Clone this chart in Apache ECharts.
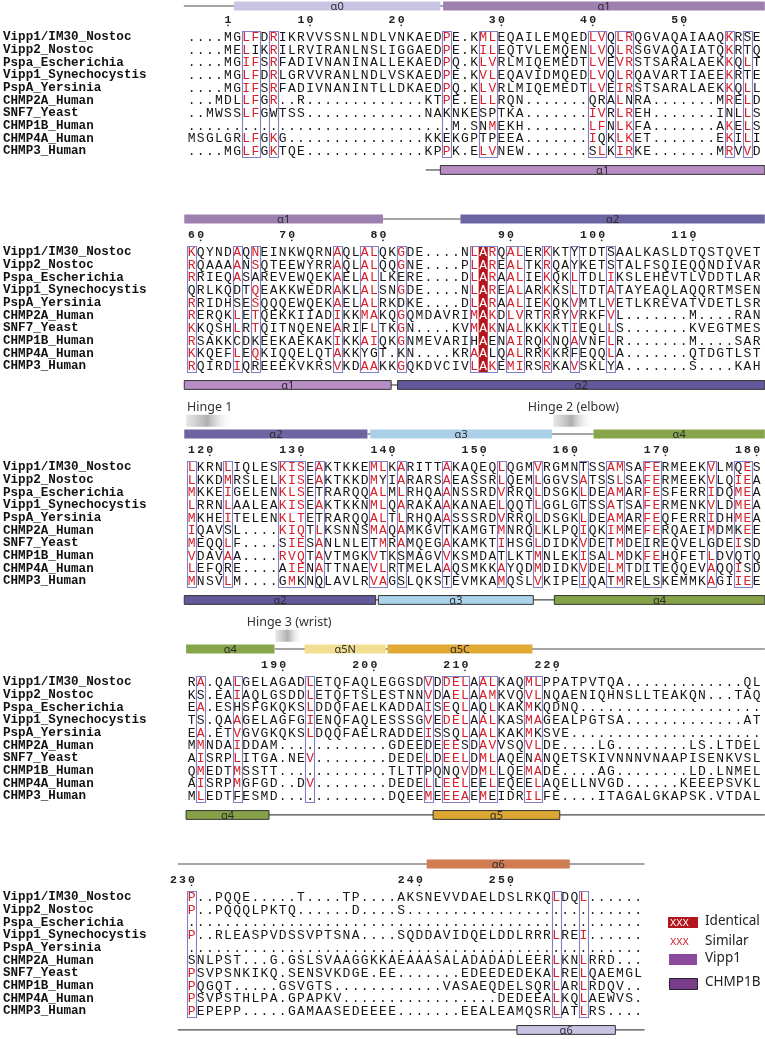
<!DOCTYPE html>
<html><head><meta charset="utf-8">
<script src="https://cdn.jsdelivr.net/npm/echarts@6/dist/echarts.min.js"></script>
<style>html,body{margin:0;padding:0;background:#fff}#c{width:765px;height:1039px}</style>
</head><body><div id="c"></div>
<script>
// ---------------- DATA ----------------
const names = ["Vipp1/IM30_Nostoc","Vipp2_Nostoc","Pspa_Escherichia","Vipp1_Synechocystis","PspA_Yersinia","CHMP2A_Human","SNF7_Yeast","CHMP1B_Human","CHMP4A_Human","CHMP3_Human"];

// residues; lowercase = similar residue (drawn red)
const seq1 = [
  "....MGlfDrIKRVVSSNLNDLVNKAEDpE.KmlEQAILEMQEDlvQlrQGVAQAIAAQkRSE",
  "....MElIKrILRVIRANLNSLIGGAEDpE.KilEQTVLEMQENlvQlrSGVAQAIATQkRTQ",
  "....MGifSrFADIVNANINALLEKAEDpQ.KlvRLMIQEMEDTlvEvrSTSARALAEKkQlT",
  "....MGlfDrLGRVVRANLNDLVSKAEDpE.KvlEQAVIDMQEDlvQlrQAVARTIAEEkRTE",
  "....MGifSrFADIVNANINTLLDKAEDpQ.KlvRLMIQEMEDTlvEirSTSARALAEKkQlL",
  "...MDLlfGr..R" + "............." + "KTpE.EllRQN" + "......." + "QRAlNRA" + "......." + "MrElD",
  "..MWSSlfGWTSS" + "............." + "NAKNKESPTKA" + "......." + "ivRlrEH" + "......." + "INLlS",
  ".........." + ".........." + "........." + "M.SNmEKH" + "......." + "lfNlkFA" + "......." + "AkElS",
  "MSGLGRlfGkG" + "..............." + "KKEKGPTPEEA" + "......." + "iQKlkET" + "......." + "EkIlI",
  "....MGlfGkTQE" + "............." + "KPpK.ElvNEW" + "......." + "SlKirKE" + "......." + "MrVvD"
];
const seq2 = [
  "kQYNDaQnEINKWQRNaQLalQKgDE....NlArQalERkKTYTDTSAALKASLDTQSTQVET",
  "rQAAAaNsQTEEWYRRaQLalQQgNE....PlArEalTKrQAYKETSTALFSQIEQQNDIVAR",
  "rRIEQaSAREVEWQEKaELalLKERE....DlArAalIEkQKlTDLiKSLEHEVTLVDDTLAR",
  "QRLKQDTqEAKKWEDRaKLalSNgDE....NlArEalARkKSlTDTaTAYEAQLAQQRTMSEN",
  "rRIDHSEsQQQEWQEKaELalRKDKE....DlArAalIEkQKvMTLvETLKREVATVDETLSR",
  "rERQKlEtQEKKIIADiKKmaKQgQMDAVRImAkDlvRTrRYvRKFvL" + "......." + "M" + "...." + "RAN",
  "kKQSHlRtQITNQENEaRIFlTKgN" + "...." + "KVmAkNalKKkKTiEQLlS" + "......." + "KVEGTMES",
  "rSAKKCDKEEKAEKAKiKKaiQKgNMEVARIHAENaiRQkNQaVNFlR" + "......." + "M" + "...." + "SAR",
  "kKQEFlEqKIQQELQTaKKYGT.KN" + "...." + "KRaALQalRRkKRFEQQlA" + "......." + "QTDGTLST",
  "rQIRDiQREEEKVKRSvKDaaKKgQKDVCIVlAkEmiRSrKAvSKLYA" + "......." + "S" + "...." + "KAH"
];
const seq3 = [
  "lKRNlIQLESkisEaKTKKEmlKaRITTaKAQEQlQGMvRGMNTSSamSAfeRMEEKvLMQeS",
  "lKKDmRSLELkisEaKTKKDmYIaRARSaEASSRlQEMlGGVSaTSSlSAfeRMEEKvLQieA",
  "mKKEiGELENklsETRARQQalMlRHQAaNSSRDvRRQlDSGKlDEamARfeSFERRiDQmeA",
  "lRRNlAALEAkisEaKTKKNmlQaRAKAaKANAElQQTlGGLGTSSaTSAfeRMENKvLDmeA",
  "mKHEiTELENkltETRARQQalTlRHQAaSSSRDvRRQlDSGKlDEamARfeQFERRiDHmeA",
  "iQAVSL....kiqTlKSNNSmaQaMKGVTKAMGTmNRQlKLPQiQKimMEfeRQAEImDMKeE",
  "mEQQlF....SieSaNLNLETmRaMQEGaKAMKTiHSGlDIDKvDETmDEIREQVELGDEiSD",
  "vDAVaA....rvqTaVTMGKvTKSMAGVvKSMDATLKTmNLEKiSAlmDKfeHQFETlDVQTQ",
  "lEFQRE....AieNaTTNAEvlRTMELAaQSMKKaYQDmDIDKvDElmTDITEQQEVaQQiSD",
  "mNSVlM....GmKNQLAVLRvaGSLQKSTEVMKAmQSLvKIPEiQATmRELSKEMMKaGIieE"
];
const seq4 = [
  "Ra.QAlGELAGADlETQFAQLEGGSDvDdelAalKAQmlPPATPVTQA" + "............." + "QL",
  "KS.EAiAQLGSDDlETQFTSLESTNNvDAelAamKVQvlNQAENIQHNSLLTEAKQN...TAQ",
  "Ea.ESHSFGKQKSlDDQFAELKADDAiSeQlAQlKAKmKQDNQ" + ".........." + "..........",
  "TS.QAaGELAGFGiENQFAQLESSSGvEdelAalKASmaGEALPGTSA" + "............." + "AT",
  "Ea.ETvGVGKQKSlDQQFAELRADDEiSSQlAalKAKmKSVE" + ".........." + "...........",
  "MmNDAiDDAM" + "............" + "GDEEDEeeSDavVSQvlDE" + "...." + "LG" + "........" + "LS.LTDEL",
  "AiSRPlITGA.NEv" + "........" + "DEDElDeelDmlAQENaNQETSKIVNNNVNAAPISENKVSL",
  "QmEDTmSSTT" + "............" + "TLTTPQNQvDmlLQEmaDE" + "...." + "AG" + "........" + "LD.LNMEL",
  "AiSRPmGFGD..Dv" + "........" + "DEDElLeelEElEQEElAQELLNVGD" + "......" + "KEEEPSVKL",
  "MlEDTFESMD" + "............" + "DQEEmEeeaEmEIDRilFE" + "...." + "ITAGALGKAPSK.VTDAL"
];
const seq5 = [
  "p..PQQE" + "....." + "T" + "...." + "TP" + "...." + "AKSNEVVDAELDSLRKQlDQl" + "......",
  "p..PQQQLPKTQ" + "......" + "D" + "...." + "S" + ".........." + ".........." + "......",
  ".........." + ".........." + ".........." + ".........." + "..........",
  "p..RLEASPVDSSVPTSNA" + "...." + "SQDDAVIDQELDDLRRRlREi" + "......",
  ".........." + ".........." + ".........." + ".........." + "..........",
  "SNLPST...G.GSLSVAAGGKKAEAAASALADADADLEERlKNlRRD...",
  "pSVPSNKIKQ.SENSVKDGE.EE" + "......." + "EDEEDEDEKAlRElQAEMGL",
  "pQGQT" + "....." + "GSVGTS" + "............" + "VASAEQDELSQRlARlRDQV..",
  "pSVPSTHLPA.GPAPKV" + "................." + "DEDEEAlKQlAEWVS.",
  "pEPEPP" + "....." + "GAMAASEDEEEE" + "......." + "EEALEAMQSRlATlRS...."
];

// boxed (similar) column ranges per block, identical columns
const boxes1 = [[6,7],[9,9],[28,28],[32,33],[44,45],[47,48],[59,59],[61,61]];
const boxes2 = [[0,0],[5,5],[7,7],[16,16],[19,20],[23,23],[31,33],[35,36],[39,39],[42,42],[46,46]];
const boxes3 = [[0,0],[4,4],[10,12],[14,14],[20,21],[23,23],[28,28],[34,34],[38,38],[43,43],[46,47],[50,51],[57,57],[60,61]];
const boxes4 = [[1,1],[5,5],[13,13],[26,26],[28,30],[32,33],[37,38]];
const boxes5 = [[0,0],[40,40],[43,43]];
const identical2 = [32];

// secondary structure: [kind, fromEdge, toEdge, name] (column edges)
const ss1Top = [["line",-0.35,28.1,""],["helix",5.15,27.8,"α0"],["helix",28.1,63.4,"α1"]];
const ss1Bot = [["line",26.2,27.8,""],["helix",27.8,63.4,"α1"]];
const ss2Top = [["line",21.5,30.0,""],["helix",-0.3,21.5,"α1"],["helix",30.0,63.4,"α2"]];
const ss2Bot = [["line",22.4,23.1,""],["helix",-0.3,22.4,"α1"],["helix",23.1,63.4,"α2"]];
const ss3Top = [["line",19.8,44.6,""],["helix",-0.3,19.8,"α2"],["helix",20.1,40.05,"α3"],["helix",44.6,63.4,"α4"]];
const ss3Bot = [["line",20.7,40.3,""],["helix",-0.3,20.7,"α2"],["helix",21.0,38.0,"α3"],["helix",40.3,63.4,"α4"]];
const ss4Top = [["line",9.6,63.4,""],["helix",-0.1,9.6,"α4"],["helix",12.9,21.8,"α5N"],["helix",22.0,37.9,"α5C"]];
const ss4Bot = [["line",9.0,63.4,""],["helix",-0.1,9.0,"α4"],["helix",27.0,40.9,"α5"]];
const ss5Top = [["line",-1.0,50.2,""],["helix",26.3,42.0,"α6"]];
const ss5Bot = [["line",-1.0,50.2,""],["helix",36.2,47.0,"α6"]];

// hinges: [fromEdge, toEdge, label]
const hinges3 = [[-0.1,5.1,"Hinge 1"],[40.2,44.6,"Hinge 2 (elbow)"]];
const hinges4 = [[9.7,12.7,"Hinge 3 (wrist)"]];

// ---------------- LAYOUT / STYLE ----------------
const ROWH = 12.63, COLW = 9.13, LEFT = 186;
const ROW0 = [37.3, 252.3, 467.3, 682.3, 897.3];
const TOPOFF = [-31.3, -33.3, -33.3, -33.3, -33.3];
const BOTOFF = 9 * ROWH + 19;
const RED = '#d81f2a', IDBG = '#b3161e', BOXC = '#8080c4';
const LETTER_FONT = '13px "Liberation Mono", monospace';
const SS_COLORS = {
  top: {'α0':'#c9c4e4','α1':'#9e80b0','α2':'#6d65a2','α3':'#a9d0e8','α4':'#87a64b','α5N':'#f1de90','α5C':'#e1aa34','α6':'#cf7c53'},
  bot: {'α1':'#b78dc4','α2':'#62589b','α3':'#acd3ea','α4':'#85a248','α5':'#dda733','α6':'#c9c3e3'}
};

const SEQS = [seq1, seq2, seq3, seq4, seq5];
const BOXES = [boxes1, boxes2, boxes3, boxes4, boxes5];
const IDENT = [[], identical2, [], [], []];
const SS = [[ss1Top, ss1Bot], [ss2Top, ss2Bot], [ss3Top, ss3Bot], [ss4Top, ss4Bot], [ss5Top, ss5Bot]];
const HINGES = [[], [], hinges3, hinges4, []];

const grid = [], xAxis = [], yAxis = [], series = [];
let resCount = 0;

SEQS.forEach((rows, b) => {
  grid.push({left: LEFT, top: ROW0[b] - 2 * ROWH, width: 63 * COLW, height: 13 * ROWH});
  xAxis.push({type: 'value', gridIndex: b, min: -0.5, max: 62.5, show: false});
  yAxis.push({
    type: 'value', gridIndex: b, min: -2, max: 11, interval: 1, inverse: true,
    axisLine: {show: false}, axisTick: {show: false}, splitLine: {show: false},
    axisLabel: {
      margin: LEFT - 2, align: 'left', fontFamily: 'Liberation Mono', fontWeight: 'bold',
      fontSize: 12.6, color: '#111',
      formatter: v => { const i = Math.round(v); return (Math.abs(v - i) < 1e-6 && i >= 0 && i < names.length) ? names[i] : ''; }
    }
  });

  // identical columns background
  series.push({
    type: 'custom', xAxisIndex: b, yAxisIndex: b, silent: true, z: 1,
    data: IDENT[b].map(c => [c, 0]),
    renderItem: (params, api) => {
      const c = api.value(0);
      const p0 = api.coord([c - 0.5, -0.5]), p1 = api.coord([c + 0.5, rows.length - 0.5]);
      return {type: 'rect', shape: {x: p0[0], y: p0[1], width: p1[0] - p0[0], height: p1[1] - p0[1]}, style: {fill: IDBG}};
    }
  });

  // boxes
  series.push({
    type: 'custom', xAxisIndex: b, yAxisIndex: b, silent: true, z: 3,
    data: BOXES[b].map(r => [r[0], r[1]]),
    renderItem: (params, api) => {
      const p0 = api.coord([api.value(0) - 0.5, -0.5]), p1 = api.coord([api.value(1) + 0.5, rows.length - 0.5]);
      return {type: 'rect', shape: {x: Math.round(p0[0]) + 0.5, y: Math.round(p0[1]) + 0.5, width: Math.round(p1[0] - p0[0]), height: Math.round(p1[1] - p0[1])},
        style: {fill: null, stroke: BOXC, lineWidth: 1.1}};
    }
  });

  // residues
  const cells = [], meta = [];
  const ident = new Set(IDENT[b]);
  rows.forEach((s, r) => {
    for (let c = 0; c < s.length; c++) {
      const ch = s[c];
      const up = ch.toUpperCase();
      let flag = 0;
      if (ident.has(c) && ch !== '.') flag = 2; else if (ch !== up) flag = 1;
      cells.push([c, r]); meta.push({ch: up, flag});
    }
  });
  series.push({
    type: 'custom', xAxisIndex: b, yAxisIndex: b, silent: true, z: 4, progressive: 0,
    data: cells,
    renderItem: (params, api) => {
      const m = meta[params.dataIndex];
      const p = api.coord([api.value(0), api.value(1)]);
      return {type: 'text', style: {text: m.ch, x: p[0], y: p[1] + 0.5, align: 'center', verticalAlign: 'middle',
        font: LETTER_FONT, fill: m.flag === 2 ? '#fff' : (m.flag === 1 ? RED : '#161616')}};
    }
  });

  // ruler (numbering from first sequence)
  const ruler = [];
  const first = rows[0];
  for (let c = 0; c < first.length; c++) {
    if (first[c] !== '.') { resCount++; if (resCount === 1 || resCount % 10 === 0) ruler.push([c, resCount]); }
  }
  series.push({
    type: 'custom', xAxisIndex: b, yAxisIndex: b, silent: true, z: 4,
    data: ruler,
    renderItem: (params, api) => {
      const c = api.value(0), s = String(api.value(1));
      const ch = [];
      for (let k = 0; k < s.length; k++) {
        const p = api.coord([c - (s.length - 1 - k), -17.5 / ROWH]);
        ch.push({type: 'text', style: {text: s[k], x: p[0], y: p[1], align: 'center', verticalAlign: 'middle',
          font: 'bold 11.5px "Liberation Mono", monospace', fill: '#222'}});
      }
      const d = api.coord([c, -12.0 / ROWH]);
      ch.push({type: 'circle', shape: {cx: d[0], cy: d[1], r: 0.9}, style: {fill: '#333'}});
      return {type: 'group', children: ch};
    }
  });

  // secondary structure tracks
  [0, 1].forEach(t => {
    const segs = SS[b][t];
    series.push({
      type: 'custom', xAxisIndex: b, yAxisIndex: b, silent: true, z: 5,
      data: segs.map(s => [s[1], s[2]]),
      renderItem: (params, api) => {
        const s = segs[params.dataIndex];
        const yv = (t === 0 ? TOPOFF[b] : BOTOFF) / ROWH;
        const p0 = api.coord([api.value(0) - 0.5, yv]), p1 = api.coord([api.value(1) - 0.5, yv]);
        if (s[0] === 'line') {
          return {type: 'line', z2: 1, shape: {x1: p0[0], y1: p0[1], x2: p1[0], y2: p1[1]}, style: {stroke: '#4a4a4a', lineWidth: 1.2}};
        }
        const h = 8.8;
        const col = (t === 0 ? SS_COLORS.top : SS_COLORS.bot)[s[3]];
        return {type: 'group', children: [
          {type: 'rect', z2: 2, shape: {x: p0[0], y: p0[1] - h / 2, width: p1[0] - p0[0], height: h},
            style: {fill: col, stroke: t === 1 ? '#333' : null, lineWidth: t === 1 ? 1 : 0}},
          {type: 'text', z2: 3, style: {text: s[3], x: (p0[0] + p1[0]) / 2, y: p0[1] + 0.5, align: 'center', verticalAlign: 'middle',
            font: '11px "Noto Sans", sans-serif', fill: '#2b2b2b'}}
        ]};
      }
    });
  });

  // hinges
  const hs = HINGES[b];
  series.push({
    type: 'custom', xAxisIndex: b, yAxisIndex: b, silent: true, z: 5,
    data: hs.map(h => [h[0], h[1]]),
    renderItem: (params, api) => {
      const h = hs[params.dataIndex];
      const yg = -46.5 / ROWH, yl = -59.5 / ROWH;
      const p0 = api.coord([api.value(0) - 0.5, yg]), p1 = api.coord([api.value(1) - 0.5, yg]);
      const lp = api.coord([(api.value(0) + api.value(1)) / 2 - 0.5, yl]);
      const grad = new echarts.graphic.LinearGradient(0, 0, 1, 0, [
        {offset: 0, color: 'rgba(205,205,205,0.5)'},
        {offset: 0.45, color: 'rgba(170,170,170,0.95)'},
        {offset: 1, color: 'rgba(255,255,255,0)'}
      ]);
      return {type: 'group', children: [
        {type: 'rect', shape: {x: p0[0], y: p0[1] - 6, width: p1[0] - p0[0], height: 12}, style: {fill: grad}},
        {type: 'text', style: {text: h[2], x: lp[0], y: lp[1], align: 'center', verticalAlign: 'middle',
          font: '12.5px "Noto Sans", sans-serif', fill: '#333'}}
      ]};
    }
  });
});

const chart = echarts.init(document.getElementById('c'));
chart.setOption({
  animation: false,
  grid, xAxis, yAxis, series,
  graphic: [
    {type: 'rect', left: 668, top: 917, shape: {width: 30, height: 11}, style: {fill: IDBG}},
    {type: 'text', left: 670, top: 918, style: {text: 'XXX', font: '10.5px "Liberation Mono", monospace', fill: '#fff'}},
    {type: 'text', left: 705, top: 914, style: {text: 'Identical', font: '13.5px "Noto Sans", sans-serif', fill: '#222'}},
    {type: 'text', left: 670, top: 937, style: {text: 'XXX', font: '10.5px "Liberation Mono", monospace', fill: RED}},
    {type: 'text', left: 705, top: 934, style: {text: 'Similar', font: '13.5px "Noto Sans", sans-serif', fill: '#222'}},
    {type: 'rect', left: 669, top: 954, shape: {width: 28, height: 11}, style: {fill: '#8b4a9c'}},
    {type: 'text', left: 705, top: 951, style: {text: 'Vipp1', font: '13.5px "Noto Sans", sans-serif', fill: '#222'}},
    {type: 'rect', left: 669, top: 978, shape: {width: 28, height: 11}, style: {fill: '#7b3d8c', stroke: '#222', lineWidth: 1}},
    {type: 'text', left: 705, top: 975, style: {text: 'CHMP1B', font: '13.5px "Noto Sans", sans-serif', fill: '#222'}}
  ]
});
</script>
</body></html>
